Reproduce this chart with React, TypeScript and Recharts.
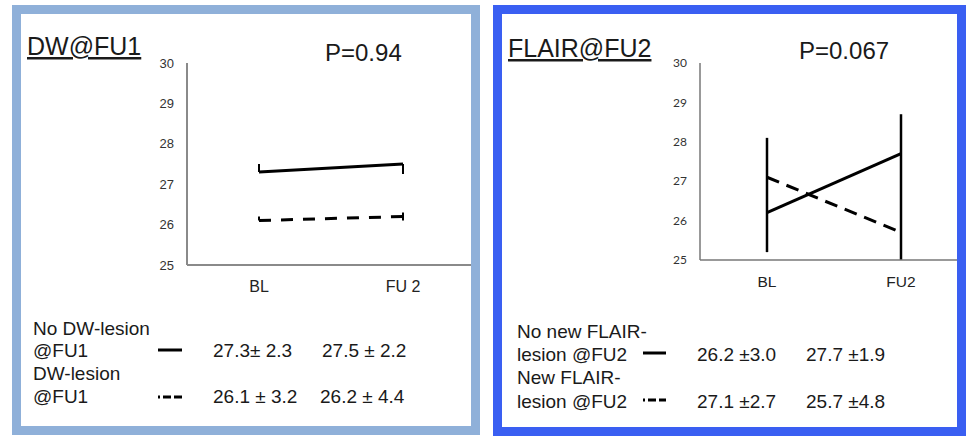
import React from 'react';
import { LineChart, Line, XAxis, YAxis, ErrorBar } from 'recharts';

// ---- data ----
const leftCategories = ['BL', 'FU 2'];
const leftNoLesion = [27.3, 27.5];
const leftNoLesionErr: [number, number][] = [[0, 0.2], [0.25, 0]];
const leftLesion = [26.1, 26.2];
const leftLesionErr: [number, number][] = [[0, 0.1], [0.1, 0.1]];

const rightCategories = ['BL', 'FU2'];
const rightNoNew = [26.2, 27.7];
const rightNoNewErr: [number, number][] = [[1.0, 1.9], [2.7, 1.0]];
const rightNew = [27.1, 25.7];

const yTicks = [25, 26, 27, 28, 29, 30];

const leftTitle = 'DW@FU1';
const leftP = 'P=0.94';
const leftLegendLabels = [['No DW-lesion', '@FU1'], ['DW-lesion', '@FU1']];
const leftLegendValues = [['27.3\u00b1 2.3', '27.5 \u00b1 2.2'], ['26.1 \u00b1 3.2', '26.2 \u00b1 4.4']];

const rightTitle = 'FLAIR@FU2';
const rightP = 'P=0.067';
const rightLegendLabels = [['No new FLAIR-', 'lesion @FU2'], ['New FLAIR-', 'lesion @FU2']];
const rightLegendValues = [['26.2 \u00b13.0', '27.7 \u00b11.9'], ['27.1 \u00b12.7', '25.7 \u00b14.8']];

const leftData = leftCategories.map((c, i) => ({
  cat: c,
  noLesion: leftNoLesion[i],
  noLesionErr: leftNoLesionErr[i],
  lesion: leftLesion[i],
  lesionErr: leftLesionErr[i],
}));

const rightData = rightCategories.map((c, i) => ({
  cat: c,
  noNew: rightNoNew[i],
  noNewErr: rightNoNewErr[i],
  isNew: rightNew[i],
}));

const FONT = '"Liberation Sans", Arial, Helvetica, sans-serif';
const TXT = '#1a1a1a';

export default function App() {
  return (
    <div style={{ position: 'absolute', left: 0, top: 0, width: 966, height: 436, background: '#fff', overflow: 'hidden', fontFamily: FONT }}>
      {/* Left panel */}
      <div style={{ position: 'absolute', left: 12, top: 5, width: 468, height: 430, border: '9px solid #8fb0d9', boxSizing: 'border-box', overflow: 'hidden', background: '#fff' }}>
        <div style={{ position: 'absolute', left: 119, top: 26 }}>
          <LineChart width={343} height={265} data={leftData} margin={{ top: 23, right: 8, bottom: 0, left: 0 }}>
            <XAxis dataKey="cat" padding={{ left: 72, right: 72 }} axisLine={{ stroke: '#8a8a8a', strokeWidth: 2 }} tickLine={false} tickSize={0} tickMargin={16} height={40} fontSize={16} fontFamily={FONT} tick={{ fontSize: 16, fill: '#222', fontFamily: FONT }} interval={0} />
            <YAxis domain={[25, 30]} ticks={yTicks} allowDataOverflow axisLine={{ stroke: '#8a8a8a', strokeWidth: 2 }} tickLine={false} tickSize={0} tickMargin={13} width={47} fontSize={13} fontFamily={FONT} tick={{ fontSize: 13, fill: '#333', fontFamily: FONT }} />
            <Line dataKey="noLesion" stroke="#000" strokeWidth={3} dot={false} isAnimationActive={false}>
              <ErrorBar dataKey="noLesionErr" direction="y" width={0} stroke="#000" strokeWidth={2} />
            </Line>
            <Line dataKey="lesion" stroke="#000" strokeWidth={3} strokeDasharray="12 10" dot={false} isAnimationActive={false}>
              <ErrorBar dataKey="lesionErr" direction="y" width={0} stroke="#000" strokeWidth={2} />
            </Line>
          </LineChart>
        </div>
      </div>

      {/* Right panel */}
      <div style={{ position: 'absolute', left: 493, top: 5, width: 473, height: 431, border: '9px solid #3a5ff2', boxSizing: 'border-box', overflow: 'hidden', background: '#fff' }}>
        <div style={{ position: 'absolute', left: 151, top: 26 }}>
          <LineChart width={315} height={260} data={rightData} margin={{ top: 23, right: 0, bottom: 0, left: 0 }}>
            <XAxis dataKey="cat" padding={{ left: 67, right: 67 }} axisLine={{ stroke: '#777', strokeWidth: 1.5 }} tickLine={false} tickSize={0} tickMargin={16} height={40} fontSize={15.5} fontFamily={FONT} tick={{ fontSize: 15.5, fill: '#222', fontFamily: FONT }} interval={0} />
            <YAxis domain={[25, 30]} ticks={yTicks} allowDataOverflow axisLine={{ stroke: '#777', strokeWidth: 1.5 }} tickLine={false} tickSize={0} tickMargin={13} width={47} fontSize={12} fontFamily='Lato, "Open Sans", sans-serif' tick={{ fontSize: 12, fill: '#333', fontFamily: 'Lato, "Open Sans", sans-serif' }} />
            <Line dataKey="isNew" stroke="#000" strokeWidth={3} strokeDasharray="13 8" dot={false} isAnimationActive={false} />
            <Line dataKey="noNew" stroke="#000" strokeWidth={3} dot={false} isAnimationActive={false}>
              <ErrorBar dataKey="noNewErr" direction="y" width={0} stroke="#000" strokeWidth={2.5} />
            </Line>
          </LineChart>
        </div>
      </div>

      {/* Text overlay */}
      <svg width={966} height={436} style={{ position: 'absolute', left: 0, top: 0, pointerEvents: 'none' }}>
        <g fontFamily={FONT} fill={TXT}>
          <text x={27} y={55} fontSize={25} style={{ textDecoration: 'underline' }}>{leftTitle}</text>
          <text x={325} y={61} fontSize={24}>{leftP}</text>
          <text x={33} y={335} fontSize={19}>{leftLegendLabels[0][0]}</text>
          <text x={33} y={357} fontSize={19}>{leftLegendLabels[0][1]}</text>
          <text x={33} y={380} fontSize={19}>{leftLegendLabels[1][0]}</text>
          <text x={33} y={403} fontSize={19}>{leftLegendLabels[1][1]}</text>
          <text x={213} y={357} fontSize={19}>{leftLegendValues[0][0]}</text>
          <text x={322} y={357} fontSize={19}>{leftLegendValues[0][1]}</text>
          <text x={213} y={403} fontSize={19}>{leftLegendValues[1][0]}</text>
          <text x={320} y={403} fontSize={19}>{leftLegendValues[1][1]}</text>

          <text x={508} y={57} fontSize={25} style={{ textDecoration: 'underline' }}>{rightTitle}</text>
          <text x={799} y={59} fontSize={24}>{rightP}</text>
          <text x={517} y={338} fontSize={19}>{rightLegendLabels[0][0]}</text>
          <text x={517} y={361} fontSize={19}>{rightLegendLabels[0][1]}</text>
          <text x={517} y={384} fontSize={19}>{rightLegendLabels[1][0]}</text>
          <text x={517} y={408} fontSize={19}>{rightLegendLabels[1][1]}</text>
          <text x={697} y={361} fontSize={19}>{rightLegendValues[0][0]}</text>
          <text x={806} y={361} fontSize={19}>{rightLegendValues[0][1]}</text>
          <text x={697} y={408} fontSize={19}>{rightLegendValues[1][0]}</text>
          <text x={806} y={408} fontSize={19}>{rightLegendValues[1][1]}</text>
        </g>
        <g stroke="#000" strokeWidth={3}>
          <line x1={158} y1={350} x2={182} y2={350} />
          <line x1={158} y1={397} x2={182} y2={397} strokeDasharray="2 3 8 3 8 100" />
          <line x1={643} y1={353} x2={666} y2={353} />
          <line x1={643} y1={400} x2={666} y2={400} strokeDasharray="2 3 8 3 8 100" />
        </g>
      </svg>
    </div>
  );
}
